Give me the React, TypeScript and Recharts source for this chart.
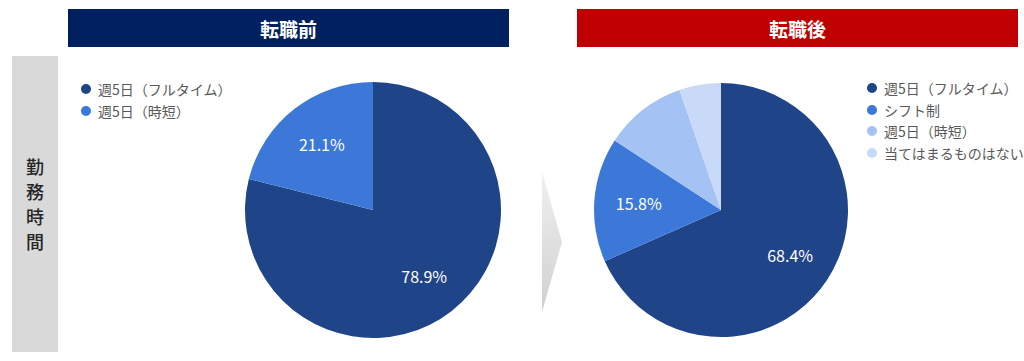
import { Cell, Pie, PieChart } from 'recharts';

const beforeNames = ['週5日（フルタイム）', '週5日（時短）'];
const beforeValues = [78.9, 21.1];
const afterNames = ['週5日（フルタイム）', 'シフト制', '週5日（時短）', '当てはまるものはない'];
const afterValues = [68.4, 15.8, 10.5, 5.3];
const sideLabel = ['勤', '務', '時', '間'];

const BEFORE_COLORS = ['#1F4488', '#3C78D8'];
const AFTER_COLORS = ['#1F4488', '#3C78D8', '#A4C2F4', '#C9DAF8'];
const FONT = '"Noto Sans CJK JP", "Noto Sans", sans-serif';
const RAD = Math.PI / 180;

const beforeData = beforeNames.map((name, i) => ({ name, value: beforeValues[i] }));
const afterData = afterNames.map((name, i) => ({ name, value: afterValues[i] }));

// percent labels inside slices; tiny slices get none
function makeLabel(ratio: number) {
  return (props: any) => {
    const { cx, cy, midAngle, outerRadius, value } = props;
    if (value < 12) return null;
    const r = outerRadius * ratio;
    const x = cx + r * Math.cos(-midAngle * RAD);
    const y = cy + r * Math.sin(-midAngle * RAD);
    return (
      <text x={x} y={y} fill="#fff" fontSize={16} fontFamily={FONT} textAnchor="middle" dominantBaseline="central">
        {`${value.toFixed(1)}%`}
      </text>
    );
  };
}

function Legend({ names, colors, left, top }: { names: string[]; colors: string[]; left: number; top: number }) {
  return (
    <div style={{ position: 'absolute', left, top, fontFamily: FONT, fontSize: 14, color: '#595959' }}>
      {names.map((n, i) => (
        <div key={n} style={{ display: 'flex', alignItems: 'center', height: 21.7 }}>
          <span style={{ width: 10, height: 10, borderRadius: 5, background: colors[i], marginRight: 7 }} />
          {n}
        </div>
      ))}
    </div>
  );
}

function Header({ text, color, left }: { text: string; color: string; left: number }) {
  return (
    <div
      style={{
        position: 'absolute', left, top: 9, width: 441, height: 38, background: color,
        color: '#fff', fontFamily: FONT, fontWeight: 700, fontSize: 19,
        display: 'flex', alignItems: 'center', justifyContent: 'center',
      }}
    >
      {text}
    </div>
  );
}

export default function App() {
  return (
    <div style={{ position: 'absolute', left: 0, top: 0, width: 1024, height: 361, background: '#fff', overflow: 'hidden' }}>
      <Header text="転職前" color="#002060" left={68} />
      <Header text="転職後" color="#C00000" left={577} />
      <div style={{ position: 'absolute', left: 12, top: 56, width: 46, height: 296, background: '#D9D9D9' }} />
      <div
        style={{
          position: 'absolute', left: 12, top: 154, width: 46, textAlign: 'center',
          fontFamily: FONT, fontSize: 18, lineHeight: '25px', color: '#262626', fontWeight: 500,
        }}
      >
        {sideLabel.map((c) => (
          <div key={c}>{c}</div>
        ))}
      </div>
      <svg style={{ position: 'absolute', left: 0, top: 0 }} width={1024} height={361}>
        <defs>
          <linearGradient id="arrowGrad" x1="0" y1="0" x2="0" y2="1">
            <stop offset="0" stopColor="#F0F0F0" />
            <stop offset="1" stopColor="#D0D0D0" />
          </linearGradient>
        </defs>
        <polygon points="542,172 562,242 542,312" fill="url(#arrowGrad)" />
      </svg>
      <div style={{ position: 'absolute', left: 0, top: 0 }}>
        <PieChart width={1024} height={361} margin={{ top: 0, right: 0, bottom: 0, left: 0 }}>
          <Pie
            data={beforeData}
            dataKey="value"
            nameKey="name"
            cx={373}
            cy={210}
            outerRadius={128}
            startAngle={90}
            endAngle={-270}
            stroke="none"
            label={makeLabel(0.65)}
            labelLine={false}
            isAnimationActive={false}
          >
            {beforeData.map((d, i) => (
              <Cell key={d.name} fill={BEFORE_COLORS[i]} />
            ))}
          </Pie>
          <Pie
            data={afterData}
            dataKey="value"
            nameKey="name"
            cx={721}
            cy={210}
            outerRadius={127}
            startAngle={90}
            endAngle={-270}
            stroke="none"
            label={makeLabel(0.65)}
            labelLine={false}
            isAnimationActive={false}
          >
            {afterData.map((d, i) => (
              <Cell key={d.name} fill={AFTER_COLORS[i]} />
            ))}
          </Pie>
        </PieChart>
      </div>
      <Legend names={beforeNames} colors={BEFORE_COLORS} left={81} top={78} />
      <Legend names={afterNames} colors={AFTER_COLORS} left={867} top={77} />
    </div>
  );
}
